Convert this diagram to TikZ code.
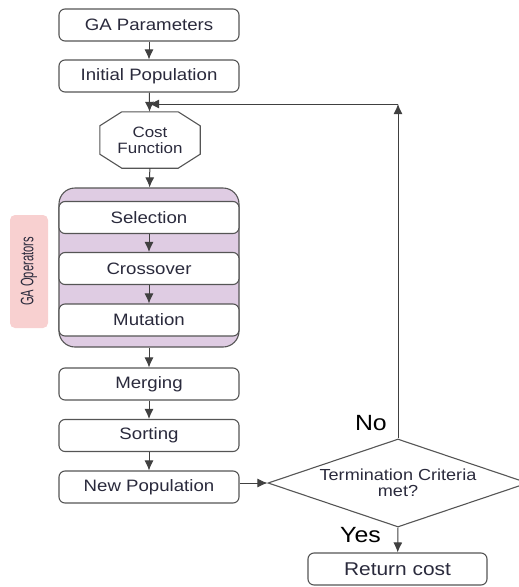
\documentclass[tikz,border=0pt]{standalone}
\usepackage{fontspec}
\setmainfont{Liberation Sans}[FakeStretch=1.13]
\newfontfamily\narrowfont{Liberation Sans}[FakeStretch=0.62]
\usepackage{tikz}
\usetikzlibrary{shapes,shapes.geometric,arrows.meta,positioning,calc}
\definecolor{opfill}{HTML}{DFCCE3}
\definecolor{tagfill}{HTML}{F8D0D0}
\definecolor{edge}{HTML}{555555}
\definecolor{ink}{HTML}{2A2A3C}
\tikzset{
  stepbox/.style={draw=edge, line width=1.1pt, rounded corners=6pt, fill=white,
    minimum width=180pt, minimum height=32pt, inner sep=0pt,
    font=\fontsize{16.5}{18}\selectfont, text=ink},
  costbox/.style={minimum width=100pt, minimum height=56pt, inner sep=0pt, align=center,
    font=\fontsize{15}{16}\selectfont, text=ink},
  octo/.style={draw=edge, line width=1.1pt},
  decision/.style={draw=edge, line width=1.1pt, diamond, shape aspect=3,
    minimum width=260pt, minimum height=88pt, inner sep=0pt, align=center,
    font=\fontsize{16}{16.5}\selectfont, text=ink},
  tagbox/.style={fill=tagfill, rounded corners=5pt, minimum width=113pt,
    minimum height=38pt, inner sep=0pt, font=\narrowfont\fontsize{18}{20}\selectfont, text=ink},
  lbl/.style={inner sep=0pt, font=\fontsize{22}{24}\selectfont},
  arr/.style={-{Latex[length=10pt,width=9pt]}, draw=black!75, line width=1pt},
}

\begin{document}
\begin{tikzpicture}[x=1pt,y=-1pt]
    \useasboundingbox (0,0) rectangle (519,587);

    % operator group
    \node[draw=edge, fill=opfill, line width=1.1pt, rounded corners=16pt,
      minimum width=180pt, minimum height=159pt] (ops) at (149,267.5) {};
    \node[tagbox, rotate=90] (tag) at (29,271.5) {GA Operators};

    \node[stepbox] (param) at (149,25) {GA Parameters};
    \node[stepbox] (init) at (149,76) {Initial Population};
    \node[costbox] (cost) at (150,140) {Cost\\Function};
    \draw[octo] ([xshift=22pt]cost.north west) -- ([xshift=-22pt]cost.north east)
      -- ([yshift=-14pt]cost.north east) -- ([yshift=14pt]cost.south east)
      -- ([xshift=-22pt]cost.south east) -- ([xshift=22pt]cost.south west)
      -- ([yshift=14pt]cost.south west) -- ([yshift=-14pt]cost.north west) -- cycle;
    \node[stepbox] (sel) at (149,217.5) {Selection};
    \node[stepbox] (cross) at (149,268.5) {Crossover};
    \node[stepbox] (mut) at (149,320) {Mutation};
    \node[stepbox] (merge) at (149,384) {Merging};
    \node[stepbox] (sort) at (149,435.5) {Sorting};
    \node[stepbox] (newpop) at (149,487) {New Population};

    \node[decision] (term) at (398,483) {Termination Criteria\\met?};
    \node[stepbox, minimum width=179pt, font=\fontsize{18.5}{20}\selectfont] (ret) at (397.5,569) {Return cost};

    \node[lbl, anchor=east] (no) at (387,423) {No};
    \node[lbl, anchor=east] (yes) at (381,535) {Yes};

    \coordinate (turn) at (398,104);
    \coordinate (join) at (149,104);

    \draw[arr] (param) -- (init);
    \draw[arr] (init) -- (cost);
    \draw[arr] (cost) -- (ops);
    \draw[arr] (sel) -- (cross);
    \draw[arr] (cross) -- (mut);
    \draw[arr] (ops) -- (merge);
    \draw[arr] (merge) -- (sort);
    \draw[arr] (sort) -- (newpop);
    \draw[arr] (term.west -| newpop.east) -- (term.west);
    \draw[arr] (term.north) -- (turn);
    \draw[arr] (turn) -- (join);
    \draw[arr] (term.south) -- (ret);
\end{tikzpicture}
\end{document}
